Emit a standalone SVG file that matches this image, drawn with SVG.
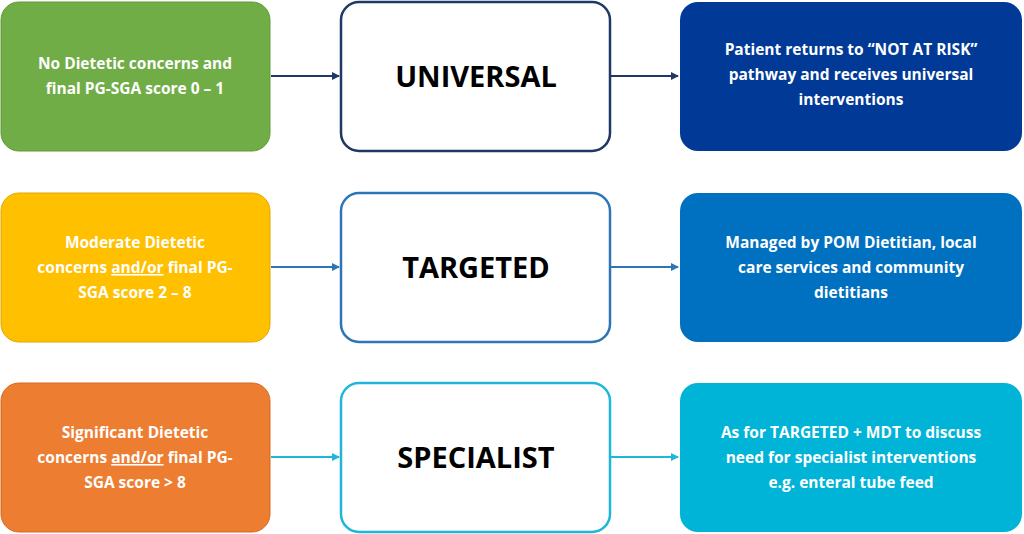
<svg xmlns="http://www.w3.org/2000/svg" width="1024" height="534" viewBox="0 0 1024 534">
<style>
.s{font-family:"Open Sans","Liberation Sans",sans-serif;font-weight:bold;font-size:15.5px;fill:#fff;text-anchor:middle}
.m{font-family:"Open Sans","Liberation Sans",sans-serif;font-weight:bold;font-size:29px;fill:#000;text-anchor:middle}
</style>
<defs>
<marker id="a1" markerWidth="8" markerHeight="8" refX="7" refY="4" orient="auto" markerUnits="userSpaceOnUse"><path d="M0,0L8,4L0,8z" fill="#203864"/></marker>
<marker id="a2" markerWidth="8" markerHeight="8" refX="7" refY="4" orient="auto" markerUnits="userSpaceOnUse"><path d="M0,0L8,4L0,8z" fill="#2E75B6"/></marker>
<marker id="a3" markerWidth="8" markerHeight="8" refX="7" refY="4" orient="auto" markerUnits="userSpaceOnUse"><path d="M0,0L8,4L0,8z" fill="#1FB6DA"/></marker>
</defs>
<rect width="1024" height="534" fill="#fff"/>
<g id="n1"><rect x="1" y="2" width="269" height="149" rx="18" fill="#70AD47" stroke="#5E9A3A"/><text class="s" x="135" y="69">No Dietetic concerns and</text><text class="s" x="135" y="94">final PG-SGA score 0 – 1</text></g>
<g id="n2"><rect x="341" y="2" width="269" height="149" rx="18" fill="#fff" stroke="#203864" stroke-width="2.5"/><text class="m" x="476" y="87">UNIVERSAL</text></g>
<g id="n3"><rect x="680" y="2" width="342" height="149" rx="18" fill="#003A96"/><text class="s" x="851" y="55">Patient returns to “NOT AT RISK”</text><text class="s" x="851" y="80">pathway and receives universal</text><text class="s" x="851" y="105">interventions</text></g>
<g id="n4"><rect x="1" y="193" width="269" height="149" rx="18" fill="#FFC000" stroke="#E0A800"/><text class="s" x="135" y="248">Moderate Dietetic</text><text class="s" x="135" y="273">concerns <tspan text-decoration="underline">and/or</tspan> final PG-</text><text class="s" x="135" y="298">SGA score 2 – 8</text></g>
<g id="n5"><rect x="341" y="193" width="269" height="149" rx="18" fill="#fff" stroke="#2E75B6" stroke-width="2.5"/><text class="m" x="476" y="278">TARGETED</text></g>
<g id="n6"><rect x="680" y="193" width="342" height="149" rx="18" fill="#0070C0"/><text class="s" x="851" y="248">Managed by POM Dietitian, local</text><text class="s" x="851" y="273">care services and community</text><text class="s" x="851" y="298">dietitians</text></g>
<g id="n7"><rect x="1" y="383" width="269" height="149" rx="18" fill="#ED7D31" stroke="#D46A22"/><text class="s" x="135" y="438">Significant Dietetic</text><text class="s" x="135" y="463">concerns <tspan text-decoration="underline">and/or</tspan> final PG-</text><text class="s" x="135" y="488">SGA score &gt; 8</text></g>
<g id="n8"><rect x="341" y="383" width="269" height="149" rx="18" fill="#fff" stroke="#1FB6DA" stroke-width="2.5"/><text class="m" x="476" y="468">SPECIALIST</text></g>
<g id="n9"><rect x="680" y="383" width="342" height="149" rx="18" fill="#00B4D8"/><text class="s" x="851" y="438">As for TARGETED + MDT to discuss</text><text class="s" x="851" y="463">need for specialist interventions</text><text class="s" x="851" y="488">e.g. enteral tube feed</text></g>
<g id="connectors" stroke-width="2">
<line x1="271" y1="76" x2="339" y2="76" stroke="#203864" marker-end="url(#a1)"/>
<line x1="611" y1="76" x2="678" y2="76" stroke="#203864" marker-end="url(#a1)"/>
<line x1="271" y1="267" x2="339" y2="267" stroke="#2E75B6" marker-end="url(#a2)"/>
<line x1="611" y1="267" x2="678" y2="267" stroke="#2E75B6" marker-end="url(#a2)"/>
<line x1="271" y1="457" x2="339" y2="457" stroke="#1FB6DA" marker-end="url(#a3)"/>
<line x1="611" y1="457" x2="678" y2="457" stroke="#1FB6DA" marker-end="url(#a3)"/>
</g>
</svg>
